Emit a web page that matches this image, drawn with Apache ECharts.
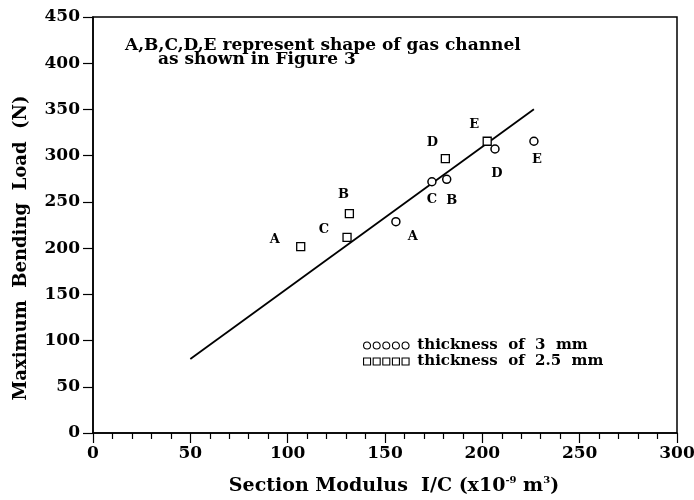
<!DOCTYPE html>
<html>
<head>
<meta charset="utf-8">
<script src="https://cdn.jsdelivr.net/npm/echarts@6/dist/echarts.min.js"></script>
<style>html,body{margin:0;padding:0;background:#fff}#c{width:694px;height:500px}</style>
</head>
<body>
<div id="c"></div>
<script>
// ---- data ----
var shapes = ['A', 'B', 'C', 'D', 'E'];
var mod3mm = [155.6, 181.7, 174.1, 206.5, 226.5];
var load3mm = [228.6, 274.4, 271.8, 307.2, 315.6];
var mod25mm = [106.7, 131.7, 130.5, 181.0, 202.5];
var load25mm = [201.5, 237.2, 211.7, 296.7, 315.6];
var fitX = [50, 226.5];
var fitY = [80, 350.2];
var xTicks = [0, 50, 100, 150, 200, 250, 300];
var yTicks = [0, 50, 100, 150, 200, 250, 300, 350, 400, 450];
var seriesNames = ['thickness  of  3  mm', 'thickness  of  2.5  mm'];
var noteLines = ['A,B,C,D,E represent shape of gas channel', 'as shown in Figure 3'];

// ---- label placement (pixel offsets, per shape) ----
var off3 = { A: [17, 15], B: [5, 21], C: [0, 18], D: [2, 25], E: [3, 18] };
var off25 = { A: [-26, -7], B: [-6, -19], C: [-23, -8], D: [-13, -16], E: [-13, -17] };

var FONT = 'DejaVu Serif';
function pts(xs, ys, offs) {
  return shapes.map(function (s, i) {
    return {
      name: s, value: [xs[i], ys[i]],
      label: { show: true, position: 'inside', offset: offs[s], formatter: s,
        color: '#000', fontFamily: FONT, fontWeight: 'bold', fontSize: 13 }
    };
  });
}
function circlesPath() {
  var p = '';
  for (var i = 0; i < 5; i++) { var x = i * 11; p += 'M' + x + ',4a4,4 0 1,0 8,0a4,4 0 1,0 -8,0Z'; }
  return 'path://' + p;
}
function squaresPath() {
  var p = '';
  for (var i = 0; i < 5; i++) { var x = i * 11; p += 'M' + x + ',0h8v8h-8Z'; }
  return 'path://' + p;
}

var chart = echarts.init(document.getElementById('c'));
var axisText = { color: '#000', fontFamily: FONT, fontWeight: 'bold', fontSize: 17 };
chart.setOption({
  animation: false,
  backgroundColor: '#fff',
  grid: { left: 93, right: 17, top: 17, bottom: 67, containLabel: false, outerBoundsMode: 'none',
    show: true, borderColor: '#000', borderWidth: 1.5, backgroundColor: 'transparent' },
  graphic: [
    { type: 'text', x: 125, y: 37, style: { text: noteLines[0], fill: '#000', font: 'bold 17px "DejaVu Serif"' } },
    { type: 'text', x: 158, y: 51, style: { text: noteLines[1], fill: '#000', font: 'bold 17px "DejaVu Serif"' } }
  ],
  legend: {
    left: 363, top: 338, padding: 0, orient: 'vertical', itemGap: 1, itemWidth: 52, itemHeight: 7,
    itemStyle: { borderWidth: 1.1 },
    textStyle: { color: '#000', fontFamily: FONT, fontWeight: 'bold', fontSize: 15, lineHeight: 15 },
    data: [{ name: seriesNames[0], icon: circlesPath() }, { name: seriesNames[1], icon: squaresPath() }]
  },
  xAxis: {
    type: 'value', min: 0, max: 300, interval: 50,
    name: '{t|Section Modulus  I/C (x10}{s|-9}{t| m}{s|3}{t|)}',
    nameLocation: 'middle', nameGap: 42,
    nameTextStyle: { padding: [0, 0, 0, 18], rich: { t: { color: '#000', fontFamily: FONT, fontWeight: 'bold', fontSize: 19 }, s: { color: '#000', fontFamily: FONT, fontWeight: 'bold', fontSize: 10, verticalAlign: 'top', padding: [0, 0, 12, 0] } } },
    axisLine: { lineStyle: { color: '#000', width: 1.5 } },
    axisTick: { length: 10, lineStyle: { color: '#000', width: 1.2 } },
    minorTick: { show: true, splitNumber: 5, length: 6, lineStyle: { color: '#000', width: 1.2 } },
    axisLabel: Object.assign({ margin: 12, formatter: function (v) { return xTicks.indexOf(v) >= 0 ? String(v) : ''; } }, axisText),
    splitLine: { show: false }
  },
  yAxis: {
    type: 'value', min: 0, max: 450, interval: 50,
    name: 'Maximum  Bending  Load  (N)', nameLocation: 'middle', nameGap: 63, nameRotate: 90,
    nameTextStyle: { color: '#000', fontFamily: FONT, fontWeight: 'bold', fontSize: 18, padding: [0, 46, 0, 0] },
    axisLine: { lineStyle: { color: '#000', width: 1.5 } },
    axisTick: { length: 10, lineStyle: { color: '#000', width: 1.2 } },
    axisLabel: Object.assign({ margin: 13, formatter: function (v) { return yTicks.indexOf(v) >= 0 ? String(v) : ''; } }, axisText),
    splitLine: { show: false }
  },
  series: [
    {
      name: seriesNames[0], type: 'scatter', symbol: 'circle', symbolSize: 8,
      itemStyle: { color: '#fff', borderColor: '#000', borderWidth: 1.5, opacity: 1 },
      data: pts(mod3mm, load3mm, off3), z: 3
    },
    {
      name: seriesNames[1], type: 'scatter', symbol: 'rect', symbolSize: 8,
      itemStyle: { color: '#fff', borderColor: '#000', borderWidth: 1.3, opacity: 1 },
      data: pts(mod25mm, load25mm, off25), z: 3
    },
    {
      name: 'fit', type: 'line', symbol: 'none', silent: true,
      lineStyle: { color: '#000', width: 1.8 },
      data: fitX.map(function (x, i) { return [x, fitY[i]]; }), z: 2
    }
  ]
});
</script>
</body>
</html>
